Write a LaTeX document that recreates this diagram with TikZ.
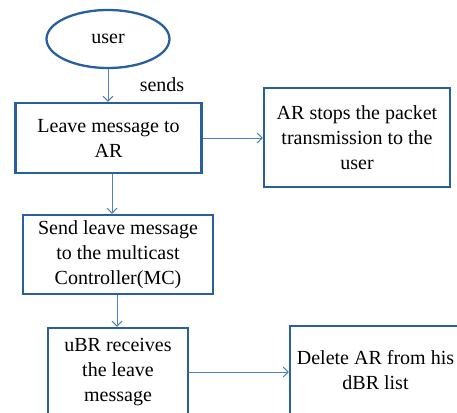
\documentclass[tikz,border=0pt]{standalone}
\usepackage{fontspec}
\setmainfont{Liberation Serif}
\usetikzlibrary{shapes.geometric,arrows.meta}
\definecolor{boxblue}{HTML}{2A5F9E}
\definecolor{arrblue}{HTML}{4F81BD}
\tikzset{
  flowbox/.style={draw=boxblue, line width=2.3pt, rectangle, align=center,
    inner sep=0pt, font=\fontsize{20}{25}\selectfont},
  arr/.style={draw=arrblue, line width=1pt, -{Straight Barb[length=5pt,width=10pt]}},
  lbl/.style={font=\fontsize{20}{25}\selectfont, inner sep=0pt}
}
\begin{document}
\begin{tikzpicture}[x=1pt,y=-1pt]
\useasboundingbox (0,0) rectangle (457,412);
\clip (0,0) rectangle (457,412);
\node[flowbox, ellipse, minimum width=123pt, minimum height=58pt] (user) at (108,39) {user};
\node[lbl] (sends) at (162,85) {sends};
\node[flowbox, minimum width=186pt, minimum height=70pt] (b1) at (108.5,138) {Leave message to\\AR};
\node[flowbox, minimum width=186pt, minimum height=99pt] (b2) at (357,137.5) {AR stops the packet\\transmission to the\\user};
\node[flowbox, minimum width=190pt, minimum height=79pt] (b3) at (118,254.5) {Send leave message\\to the multicast\\Controller(MC)};
\node[flowbox, minimum width=140pt, minimum height=88pt] (b4) at (118,372) {uBR receives\\the leave\\message};
\node[flowbox, minimum width=171pt, minimum height=88pt] (b5) at (375.5,370) {Delete AR from his\\dBR list};
\draw[arr] (user.south) -- (user.south |- b1.north);
\draw[arr] (b1.east) -- (b1.east -| b2.west);
\draw[arr] ([xshift=3.5pt]b1.south) -- ([xshift=-6pt]b3.north);
\draw[arr] ([xshift=-1pt]b3.south) -- ([xshift=-1pt]b4.north);
\draw[arr] (b4.east) -- (b4.east -| b5.west);
\end{tikzpicture}
\end{document}
